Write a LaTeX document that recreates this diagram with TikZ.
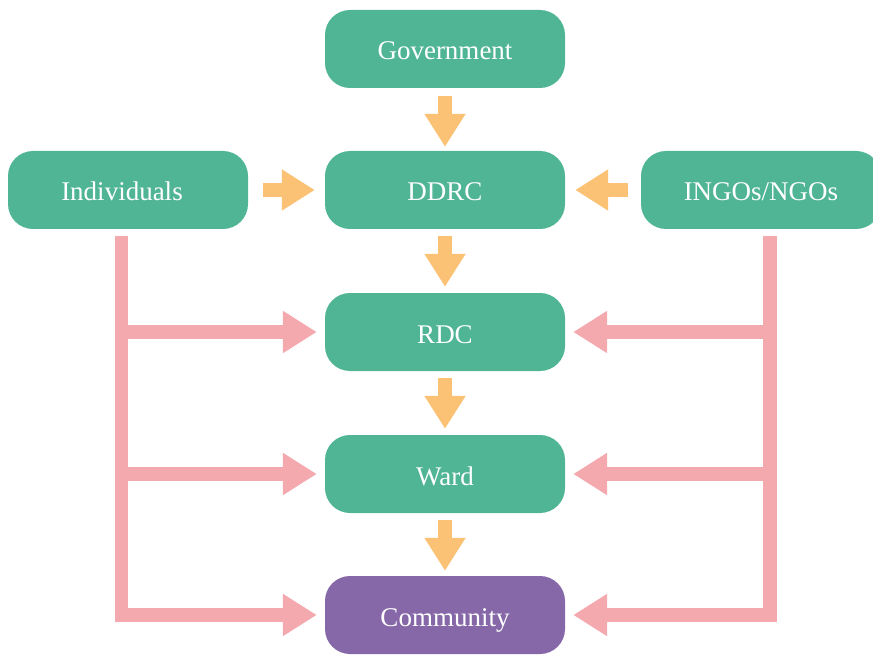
\documentclass[tikz,border=0pt]{standalone}
\usepackage{fontspec}
\setmainfont{Liberation Serif}
\usetikzlibrary{arrows.meta,calc}
\definecolor{boxgreen}{HTML}{50B594}
\definecolor{boxpurple}{HTML}{8668A8}
\definecolor{arrorange}{HTML}{FBC275}
\definecolor{arrpink}{HTML}{F4A9AF}
\tikzset{
  box/.style={fill=boxgreen, rounded corners=25pt, minimum width=240pt, minimum height=78pt,
    inner sep=0pt, text=white, text height=22pt, text depth=0pt,
    font=\fontsize{27}{30}\selectfont},
  oarrow/.style={draw=arrorange, line width=14pt, -{Triangle[width=39pt,length=33pt]}},
  parrow/.style={draw=arrpink, line width=13.5pt, line join=miter, -{Triangle[width=40pt,length=34pt]}}
}
\begin{document}
\begin{tikzpicture}[x=1pt,y=-1pt]
\useasboundingbox (0,0) rectangle (873,655);
\node[box] (gov) at (445,49) {Government};
\node[box] (ddrc) at (445,190) {DDRC};
\node[box] (rdc) at (445,332) {RDC};
\node[box] (ward) at (445,474) {Ward};
\node[box, fill=boxpurple] (comm) at (445,615) {Community};
\node[box] (ind) at (128,190) {Individuals\kern12pt};
\node[box] (ngo) at (761,190) {INGOs/NGOs};
% orange arrows
\draw[oarrow, shorten <=8pt, shorten >=4pt] (gov.south) -- (ddrc.north);
\draw[oarrow, shorten <=7pt, shorten >=6pt] (ddrc.south) -- (rdc.north);
\draw[oarrow, shorten <=7pt, shorten >=6pt] (rdc.south) -- (ward.north);
\draw[oarrow, shorten <=7pt, shorten >=5pt] (ward.south) -- (comm.north);
\draw[oarrow, shorten <=15pt, shorten >=10pt] (ind.east) -- (ddrc.west);
\draw[oarrow, shorten <=13pt, shorten >=10pt] (ngo.west) -- (ddrc.east);
% pink left
\coordinate (lt) at ($(ind.south)+(-6.5,7)$);
\draw[parrow, shorten >=8pt] (lt) |- (comm.west);
\draw[parrow, shorten >=8pt] (lt |- rdc.west) -- (rdc.west);
\draw[parrow, shorten >=8pt] (lt |- ward.west) -- (ward.west);
% pink right
\coordinate (rt) at ($(ngo.south)+(9,7)$);
\draw[parrow, shorten >=8pt] (rt) |- (comm.east);
\draw[parrow, shorten >=8pt] (rt |- rdc.east) -- (rdc.east);
\draw[parrow, shorten >=8pt] (rt |- ward.east) -- (ward.east);
\end{tikzpicture}
\end{document}
